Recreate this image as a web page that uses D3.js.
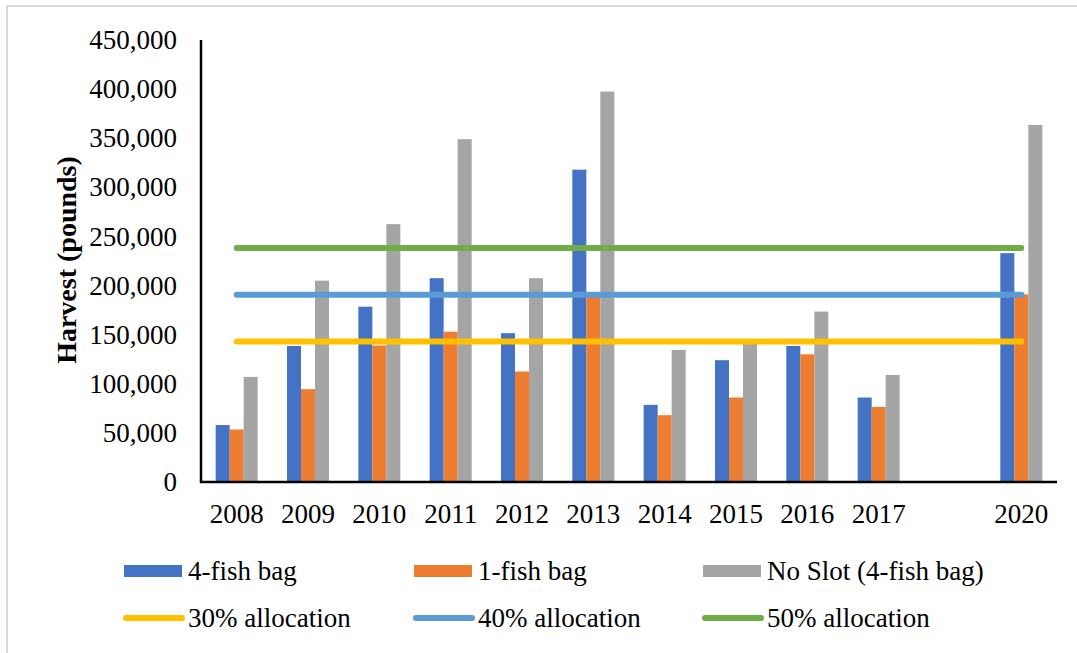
<!DOCTYPE html>
<html>
<head>
<meta charset="utf-8">
<script src="https://d3js.org/d3.v7.min.js"></script>
<style>
  body { margin: 0; background: #fff; }
</style>
</head>
<body>
<svg id="chart" width="1077" height="653"></svg>
<script>
// data
const years = ["2008","2009","2010","2011","2012","2013","2014","2015","2016","2017","","2020"];
const fourFish = [58000,138500,178500,207500,151500,318000,78500,124000,138500,86000,null,233000];
const oneFish  = [53500,94500,139000,153000,112500,189000,68000,86000,130000,76500,null,191000];
const noSlot   = [107000,205000,262500,349000,207500,397500,134500,142000,173500,109000,null,363500];
const allocNames = ["30% allocation","40% allocation","50% allocation"];
const allocValues = [143000,190600,238300];

const barSeries = [
  {name: "4-fish bag", values: fourFish, color: "#4472C4"},
  {name: "1-fish bag", values: oneFish, color: "#ED7D31"},
  {name: "No Slot (4-fish bag)", values: noSlot, color: "#A5A5A5"}
];
const lineColors = ["#FFC000", "#5B9BD5", "#70AD47"];
const FONT = "'Liberation Serif', 'Times New Roman', serif";

const svg = d3.select("#chart");

// outer light border
svg.append("rect")
  .attr("x", 7).attr("y", 6)
  .attr("width", 1100).attr("height", 700)
  .attr("fill", "none")
  .attr("stroke", "#d9d9d9")
  .attr("stroke-width", 2);

const x0 = 201, x1 = 1057, yTop = 40, yBase = 482;

const x = d3.scaleBand().domain(years).range([x0, x1]).paddingInner(0).paddingOuter(0);
const xs = d3.scaleBand().domain(d3.range(barSeries.length))
  .range([x.bandwidth() / 2 - 21, x.bandwidth() / 2 + 21]);
const y = d3.scaleLinear().domain([0, 450000]).range([yBase, yTop]);

// y tick labels
const yAxis = d3.axisLeft(y).tickValues(d3.range(0, 450001, 50000))
  .tickFormat(d3.format(",")).tickSize(0).tickPadding(24);
const gy = svg.append("g").attr("transform", "translate(" + x0 + ",0)").call(yAxis)
  .attr("font-family", null).attr("font-size", null);
gy.select(".domain").remove();
gy.selectAll("text")
  .style("font-family", FONT)
  .style("font-size", "27px")
  .attr("fill", "#000");

// x labels
const xAxis = d3.axisBottom(x).tickSize(0).tickPadding(22);
const gx = svg.append("g").attr("transform", "translate(0," + yBase + ")").call(xAxis)
  .attr("font-family", null).attr("font-size", null);
gx.select(".domain").remove();
gx.selectAll("text")
  .style("font-family", FONT)
  .style("font-size", "27px")
  .attr("fill", "#000");

// bars
barSeries.forEach(function(s, si) {
  svg.append("g").selectAll("rect")
    .data(years.map((yr, i) => ({yr: yr, v: s.values[i]})).filter(d => d.v != null))
    .enter().append("rect")
    .attr("x", d => x(d.yr) + xs(si))
    .attr("width", xs.bandwidth())
    .attr("y", d => y(d.v))
    .attr("height", d => yBase - y(d.v))
    .attr("fill", s.color);
});

// axis lines
svg.append("line").attr("x1", x0).attr("x2", x0).attr("y1", yTop).attr("y2", yBase + 1)
  .attr("stroke", "#000").attr("stroke-width", 2.5);
svg.append("line").attr("x1", x0 - 1).attr("x2", x1).attr("y1", yBase).attr("y2", yBase)
  .attr("stroke", "#000").attr("stroke-width", 2.5);

// allocation lines
const first = years[0], last = years[years.length - 1];
allocValues.forEach(function(v, i) {
  svg.append("line")
    .attr("x1", x(first) + x.bandwidth() / 2)
    .attr("x2", x(last) + x.bandwidth() / 2)
    .attr("y1", y(v)).attr("y2", y(v))
    .attr("stroke", lineColors[i])
    .attr("stroke-width", 6)
    .attr("stroke-linecap", "round");
});

// y title
svg.append("text")
  .attr("transform", "translate(66,260) rotate(-90)")
  .attr("text-anchor", "middle")
  .attr("dominant-baseline", "central")
  .style("font-family", FONT)
  .style("font-size", "28px")
  .style("font-weight", "bold")
  .text("Harvest (pounds)");

// legend
const legX = [124, 414, 703];
barSeries.forEach(function(s, i) {
  const g = svg.append("g").attr("transform", "translate(" + legX[i] + ",571)");
  g.append("rect").attr("x", 0).attr("y", -6).attr("width", 58).attr("height", 12).attr("fill", s.color);
  g.append("text").attr("x", 64).attr("y", 0).attr("dominant-baseline", "central")
    .style("font-family", FONT).style("font-size", "27px").text(s.name);
});
allocNames.forEach(function(n, i) {
  const g = svg.append("g").attr("transform", "translate(" + legX[i] + ",618)");
  g.append("line").attr("x1", 2).attr("x2", 58).attr("y1", 0).attr("y2", 0)
    .attr("stroke", lineColors[i]).attr("stroke-width", 6).attr("stroke-linecap", "round");
  g.append("text").attr("x", 64).attr("y", 0).attr("dominant-baseline", "central")
    .style("font-family", FONT).style("font-size", "27px").text(n);
});
</script>
</body>
</html>
